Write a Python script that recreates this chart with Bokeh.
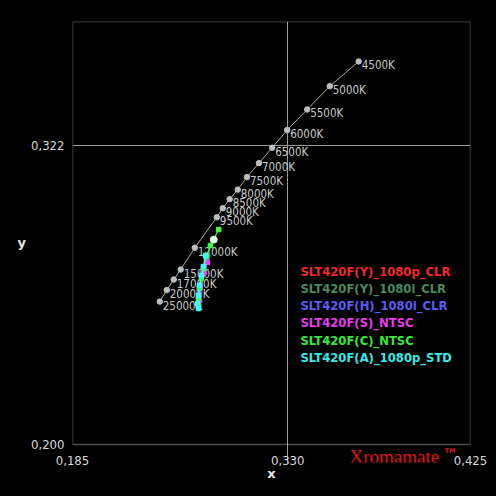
from bokeh.plotting import figure
from bokeh.models import FixedTicker, Range1d, Label, ColumnDataSource, BoxAnnotation
from bokeh.core.properties import value
from bokeh.embed import file_html
from bokeh.resources import INLINE

# ---- data ----
locus_labels = ["4500K", "5000K", "5500K", "6000K", "6500K", "7000K", "7500K", "8000K",
                "8500K", "9000K", "9500K", "12000K", "15000K", "17000K", "20000K", "25000K"]
locus_x = [0.3778, 0.3583, 0.3431, 0.3296, 0.3195, 0.3106, 0.3025, 0.2963,
           0.2909, 0.2862, 0.2822, 0.2674, 0.2579, 0.2532, 0.2485, 0.2438]
locus_y = [0.3563, 0.3462, 0.3367, 0.3283, 0.3211, 0.3148, 0.3091, 0.3040,
           0.3001, 0.2964, 0.2927, 0.2803, 0.2714, 0.2673, 0.2630, 0.2583]

series_names = ["SLT420F(Y)_1080p_CLR", "SLT420F(Y)_1080i_CLR", "SLT420F(H)_1080i_CLR",
                "SLT420F(S)_NTSC", "SLT420F(C)_NTSC", "SLT420F(A)_1080p_STD"]
series_colors = ["#ff2a2a", "#4f8f60", "#6464ff", "#ff3cff", "#3cff3c", "#3cffff"]
text_colors = ["#f02828", "#4a8a5a", "#5c5cf0", "#e83ce8", "#38e838", "#38e8e8"]

red_x = [0.2753, 0.2726, 0.2705, 0.2699]
red_y = [0.2751, 0.2694, 0.2620, 0.2571]
dkgreen_x = [0.2759, 0.2732, 0.2712, 0.2699]
dkgreen_y = [0.2775, 0.2710, 0.2653, 0.2588]
blue_x = [0.2753, 0.2726, 0.2705, 0.2699]
blue_y = [0.2759, 0.2702, 0.2628, 0.2563]
magenta_x = [0.2759, 0.2739, 0.2712, 0.2705]
magenta_y = [0.2743, 0.2702, 0.2641, 0.2588]
green_x = [0.2835, 0.2779, 0.2753, 0.2732, 0.2719, 0.2705, 0.2699, 0.2699]
green_y = [0.2877, 0.2812, 0.2767, 0.2718, 0.2677, 0.2637, 0.2596, 0.2567]
cyan_x = [0.2746, 0.2732, 0.2719, 0.2705, 0.2699, 0.2692, 0.2699]
cyan_y = [0.2771, 0.2726, 0.2690, 0.2649, 0.2608, 0.2575, 0.2555]
target_x = [0.2802]
target_y = [0.2836]

series_x = [red_x, dkgreen_x, blue_x, magenta_x, green_x, cyan_x]
series_y = [red_y, dkgreen_y, blue_y, magenta_y, green_y, cyan_y]

x_ticks = [0.185, 0.330, 0.4531]
x_tick_labels = ["0,185", "0,330", "0,425"]
y_ticks = [0.200, 0.322]
y_tick_labels = ["0,200", "0,322"]

X0, X1 = 0.185, 0.4531
Y0, Y1 = 0.200, 0.3726
PX_PER_Y = 423 / (Y1 - Y0)          # vertical pixels per data unit
PX_PER_X = 398 / (X1 - X0)
Y_LOW = Y0 - 18 / PX_PER_Y           # extra strip under the chart box for the brand mark

p = figure(width=496, height=496, output_backend="svg", toolbar_location=None,
           x_range=Range1d(X0, X1), y_range=Range1d(Y_LOW, Y1),
           min_border_left=72, min_border_right=26, min_border_top=21, min_border_bottom=34,
           background_fill_color="black", border_fill_color="black")
p.outline_line_color = None
p.add_layout(BoxAnnotation(left=X0, right=X1, bottom=Y0, top=Y1, fill_alpha=0,
                           line_color="white", line_width=1.5, level="overlay"))

tick_font = "DejaVu Sans Condensed"
for ax in (p.xaxis[0], p.yaxis[0]):
    ax.axis_line_color = None
    ax.major_tick_line_color = None
    ax.minor_tick_line_color = None
    ax.major_tick_out = 0
    ax.major_tick_in = 0
    ax.minor_tick_out = 0
    ax.major_label_text_color = "#d8d8d8"
    ax.major_label_text_font = tick_font
    ax.major_label_text_font_size = "13px"
    ax.axis_label_text_color = "#e8e8e8"
    ax.axis_label_text_font = "DejaVu Sans"
    ax.axis_label_text_font_style = "bold"
    ax.axis_label_text_font_size = "13px"

p.xaxis.ticker = FixedTicker(ticks=x_ticks)
p.xaxis.major_label_overrides = dict(zip(x_ticks, x_tick_labels))
p.yaxis.ticker = FixedTicker(ticks=y_ticks)
p.yaxis.major_label_overrides = dict(zip(y_ticks, y_tick_labels))
p.xaxis.major_label_standoff = -7
p.yaxis.major_label_standoff = 8
p.xaxis.axis_label = "x"
p.yaxis.axis_label = "y"
p.yaxis.axis_label_orientation = "horizontal"
p.xaxis.axis_label_standoff = -2
p.yaxis.axis_label_standoff = 2

p.xgrid.ticker = FixedTicker(ticks=[0.330])
p.ygrid.ticker = FixedTicker(ticks=[0.322])
p.xgrid.bounds = (Y0, Y1)
for g in (p.xgrid[0], p.ygrid[0]):
    g.grid_line_color = "#9a9a9a"
    g.grid_line_width = 1

# locus
p.line(locus_x, locus_y, line_color="#a8a8a8", line_width=1)
p.scatter(locus_x, locus_y, size=5.5, marker="circle", fill_color="#bdbdbd", line_color="#bdbdbd")
p.text(locus_x, locus_y, text=locus_labels, text_font=value(tick_font), text_font_size="11.5px",
       text_color="#c8c8c8", x_offset=3, y_offset=4, text_baseline="middle", text_align="left")

# measurement series
for xs, ys, c in zip(series_x, series_y, series_colors):
    p.line(xs, ys, line_color=c, line_width=1.2)
    p.scatter(xs, ys, marker="square", size=4.5, fill_color=c, line_color=c)
p.scatter(target_x, target_y, marker="circle", size=7, fill_color="#e8ffe8", line_color="#c0ffc0")

# legend as coloured text
lx = X0 + (300 - 72) / PX_PER_X
ly0 = Y0 + (444 - 271) / PX_PER_Y
step = 17.3 / PX_PER_Y
src = ColumnDataSource(dict(x=[lx] * len(series_names),
                            y=[ly0 - i * step for i in range(len(series_names))],
                            t=series_names, c=text_colors))
p.text("x", "y", text="t", text_color="c", source=src, text_font=value("DejaVu Sans"),
       text_font_style="bold", text_font_size="11.6px", text_baseline="middle")

# brand mark under the chart box
bx = X0 + (349 - 72) / PX_PER_X
by = Y0 - 1 / PX_PER_Y
p.add_layout(Label(x=bx + 1 / PX_PER_X, y=by - 1 / PX_PER_Y, text="Xromamate",
                   text_font="Liberation Serif", text_font_size="19px", text_color="#5a0000",
                   text_baseline="top", text_alpha=0.8))
p.add_layout(Label(x=bx, y=by, text="Xromamate", text_font="Liberation Serif",
                   text_font_size="19px", text_color="#d01818", text_baseline="top"))
p.add_layout(Label(x=X0 + (444 - 72) / PX_PER_X, y=Y0 - 2 / PX_PER_Y, text="TM",
                   text_font="DejaVu Sans", text_font_style="bold", text_font_size="6.5px",
                   text_color="#d01818", text_baseline="top"))

html = file_html(p, INLINE)
html = html.replace("<head>", "<head><style>html,body{background:#000;margin:0;}</style>", 1)
open("out.html", "w").write(html)
